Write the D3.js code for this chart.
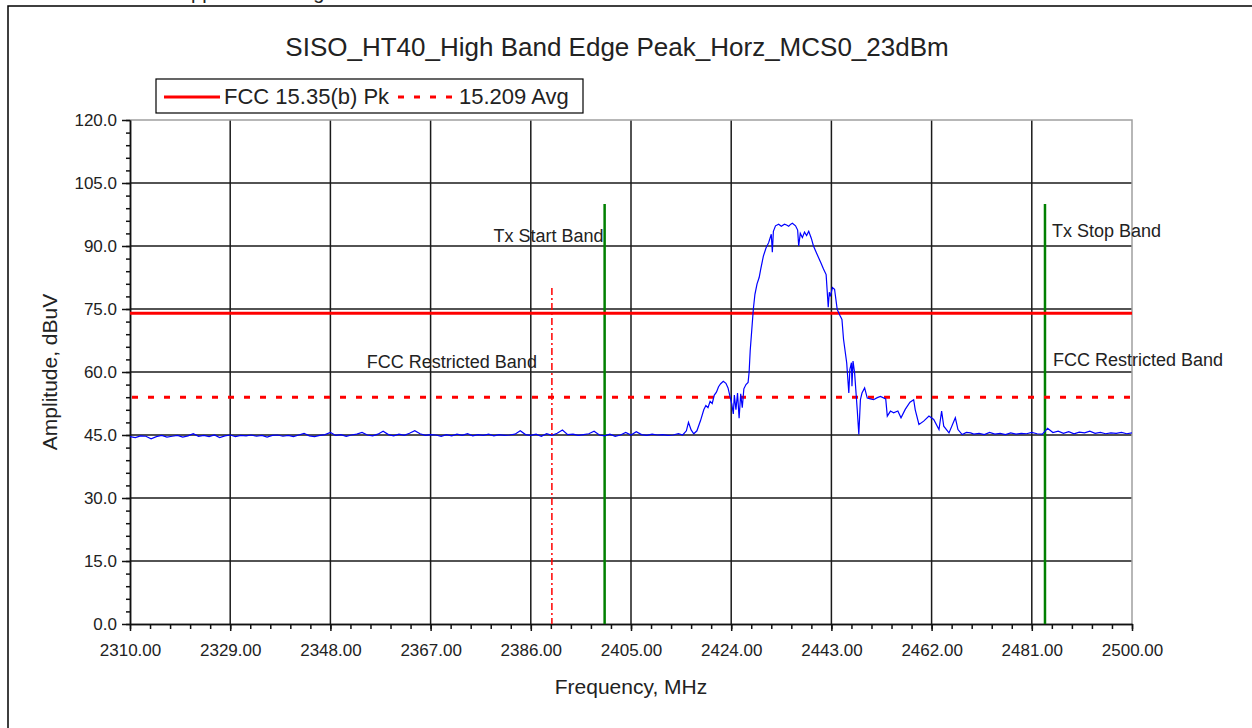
<!DOCTYPE html>
<html>
<head>
<meta charset="utf-8">
<script src="https://cdn.jsdelivr.net/npm/d3@7"></script>
<style>
body { margin: 0; background: #fff; }
svg text { font-family: "Liberation Sans", Arial, sans-serif; fill: #222; }
</style>
</head>
<body>
<div id="chart"></div>
<script>
"use strict";

const page_heading = "Horizontal Antenna Upper Band Edge Measurements";
const title = "SISO_HT40_High Band Edge Peak_Horz_MCS0_23dBm";
const x_ticks = [2310, 2329, 2348, 2367, 2386, 2405, 2424, 2443, 2462, 2481, 2500];
const y_ticks = [0, 15, 30, 45, 60, 75, 90, 105, 120];
const limit_names = ["FCC 15.35(b) Pk", "15.209 Avg"];
const limit_values = [74, 54];
const band_edges = [2400, 2483.5];
const band_labels = ["Tx Start Band", "Tx Stop Band"];
const band_top = 100;
const restricted_edges = [2390, 2483.5];
const restricted_label = "FCC Restricted Band";
const restricted_top = 80;

// measured trace, MHz / dBuV
const noise_low = [
    [2310, 44.6], [2311, 44.4], [2312, 44.8], [2313, 44.7], [2314, 44.1], [2315, 44.6], [2316, 44.9],
    [2317, 44.5], [2318, 44.7], [2319, 44.9], [2320, 44.5], [2321, 44.8], [2322, 45.3], [2323, 44.7],
    [2324, 44.9], [2325, 44.6], [2326, 45.0], [2327, 44.4], [2328, 44.8], [2329, 45.0], [2330, 44.6],
    [2331, 44.9], [2332, 44.8], [2333, 45.0], [2334, 44.7], [2335, 44.9], [2336, 44.5], [2337, 44.9],
    [2338, 45.0], [2339, 44.7], [2340, 44.9], [2341, 44.6], [2342, 45.0], [2343, 45.4], [2344, 44.8],
    [2345, 44.6], [2346, 44.9], [2347, 45.1], [2348, 45.6], [2349, 44.9], [2350, 45.1], [2351, 44.7],
    [2352, 45.0], [2353, 45.2], [2354, 45.6], [2355, 45.0], [2356, 44.8], [2357, 45.2], [2358, 45.9],
    [2359, 45.1], [2360, 44.8], [2361, 45.2], [2362, 44.9], [2363, 45.4], [2364, 46.0], [2365, 45.3],
    [2366, 44.9], [2367, 45.1], [2368, 45.0], [2369, 44.7], [2370, 45.1], [2371, 44.8], [2372, 45.2],
    [2373, 44.9], [2374, 45.3], [2375, 44.8], [2376, 45.1], [2377, 44.9], [2378, 45.2], [2379, 44.8],
    [2380, 45.1], [2381, 44.9], [2382, 45.0], [2383, 45.2], [2384, 46.0], [2385, 45.1], [2386, 44.9],
    [2387, 45.2], [2388, 44.7], [2389, 45.3], [2390, 44.9], [2391, 45.4], [2392, 46.2], [2393, 45.1],
    [2394, 45.2], [2395, 44.9], [2396, 45.1], [2397, 45.3], [2398, 45.9], [2399, 45.0], [2400, 44.8],
    [2401, 45.2], [2402, 44.7], [2403, 45.0], [2404, 45.6], [2405, 45.0], [2406, 45.8], [2407, 45.1],
    [2408, 44.9], [2409, 45.2], [2410, 45.0], [2411, 45.1], [2412, 44.9]
];
const emission = [
    [2413.0, 45.0], [2414.0, 45.3], [2414.8, 45.0], [2415.5, 46.0], [2415.9, 48.0], [2416.4, 46.2],
    [2416.9, 45.3], [2417.5, 46.0], [2418.2, 48.5], [2418.8, 51.0], [2419.2, 52.0], [2419.6, 51.5],
    [2420.0, 53.0], [2420.4, 52.5], [2420.8, 54.5], [2421.2, 55.2], [2421.6, 56.5], [2422.0, 57.2],
    [2422.5, 57.8], [2423.0, 57.3], [2423.4, 56.2], [2423.8, 54.0], [2424.1, 52.5], [2424.4, 50.0],
    [2424.6, 54.5], [2424.9, 51.0], [2425.2, 55.0], [2425.5, 49.0], [2425.8, 54.8], [2426.1, 51.5],
    [2426.4, 56.0], [2426.8, 57.0], [2427.2, 57.5], [2427.4, 60.0], [2427.6, 65.0], [2427.9, 70.0],
    [2428.2, 75.0], [2428.5, 78.5], [2428.9, 81.0], [2429.3, 82.5], [2429.6, 84.5], [2430.1, 87.6],
    [2430.6, 89.5], [2431.1, 90.8], [2431.6, 92.8], [2431.8, 88.5], [2432.0, 93.5], [2432.4, 94.8],
    [2433.0, 95.2], [2433.5, 94.7], [2434.1, 95.2], [2434.5, 95.0], [2434.9, 94.7], [2435.3, 95.2],
    [2435.6, 95.4], [2436.2, 94.8], [2436.6, 93.8], [2436.8, 90.0], [2437.1, 93.0], [2437.5, 92.0],
    [2437.9, 93.3], [2438.3, 92.5], [2438.7, 93.5], [2439.2, 91.8], [2439.6, 90.0], [2440.3, 88.0],
    [2441.0, 86.0], [2441.5, 84.5], [2442.0, 83.2], [2442.4, 75.4], [2442.6, 79.0], [2442.8, 78.0],
    [2443.2, 80.1], [2443.6, 79.7], [2444.1, 74.9], [2444.6, 73.5], [2445.0, 72.5], [2445.3, 67.8],
    [2445.9, 62.2], [2446.3, 55.0], [2446.5, 60.6], [2446.8, 62.2], [2446.9, 56.6], [2447.1, 62.6],
    [2447.4, 59.8], [2447.9, 51.0], [2448.2, 45.1], [2448.5, 53.4], [2448.8, 55.0], [2449.3, 56.2],
    [2449.8, 53.8], [2450.4, 53.6], [2451.0, 53.4], [2451.7, 53.9], [2452.3, 54.2], [2453.3, 53.6],
    [2453.6, 49.5], [2454.2, 50.7], [2454.8, 50.3], [2455.6, 50.7], [2456.2, 49.1], [2457.0, 51.1],
    [2457.9, 52.8], [2458.6, 53.4], [2458.9, 51.0], [2459.6, 47.5], [2460.5, 48.3], [2461.5, 49.5],
    [2462.4, 48.7], [2463.4, 46.3], [2463.9, 50.7], [2464.3, 47.1], [2465.3, 45.5], [2466.5, 49.1],
    [2467.0, 46.3], [2467.8, 45.1], [2468.6, 45.6], [2469.4, 45.5], [2470.0, 45.2]
];
const noise_high = [
    [2471, 45.4], [2472, 45.1], [2473, 45.6], [2474, 45.2], [2475, 45.4], [2476, 45.1], [2477, 45.5],
    [2478, 45.2], [2479, 45.4], [2480, 45.3], [2481, 45.6], [2482, 45.3], [2483, 45.2], [2484, 46.6],
    [2485, 45.6], [2486, 45.9], [2487, 45.4], [2488, 45.8], [2489, 45.3], [2490, 45.7], [2491, 45.5],
    [2492, 45.9], [2493, 45.4], [2494, 45.6], [2495, 45.3], [2496, 45.5], [2497, 45.4], [2498, 45.6],
    [2499, 45.3], [2500, 45.5]
];

const width = 1252;
const height = 728;
const plot = {left: 130, right: 1132, top: 120, bottom: 624};

const x_scale = d3.scaleLinear()
    .domain([x_ticks[0], x_ticks[x_ticks.length - 1]])
    .range([plot.left, plot.right]);
const y_scale = d3.scaleLinear()
    .domain([y_ticks[0], y_ticks[y_ticks.length - 1]])
    .range([plot.bottom, plot.top]);

const svg = d3.select("#chart").append("svg")
    .attr("width", width)
    .attr("height", height);

svg.append("rect")
    .attr("width", width)
    .attr("height", height)
    .attr("fill", "white");

// page heading, only its lower edge is inside the screenshot
svg.append("text")
    .attr("x", 2)
    .attr("y", -1)
    .attr("font-size", "20px")
    .attr("fill", "#000")
    .text(page_heading);
svg.append("rect")
    .attr("x", 8)
    .attr("y", 6)
    .attr("width", width + 20)
    .attr("height", height + 20)
    .attr("fill", "none")
    .attr("stroke", "#000")
    .attr("stroke-width", 1.5);

svg.append("text")
    .attr("x", 617)
    .attr("y", 56)
    .attr("text-anchor", "middle")
    .attr("font-size", "26px")
    .text(title);

// grid
svg.append("g")
    .selectAll("line")
    .data(x_ticks.slice(1, -1))
    .join("line")
    .attr("x1", d => x_scale(d))
    .attr("x2", d => x_scale(d))
    .attr("y1", plot.top)
    .attr("y2", plot.bottom)
    .attr("stroke", "#1a1a1a")
    .attr("stroke-width", 1.5);
svg.append("g")
    .selectAll("line")
    .data(y_ticks.slice(1, -1))
    .join("line")
    .attr("x1", plot.left)
    .attr("x2", plot.right)
    .attr("y1", d => y_scale(d))
    .attr("y2", d => y_scale(d))
    .attr("stroke", "#1a1a1a")
    .attr("stroke-width", 1.5);

// top and right border are grey
svg.append("path")
    .attr("d", "M" + plot.left + "," + plot.top + "H" + plot.right + "V" + plot.bottom)
    .attr("fill", "none")
    .attr("stroke", "#a0a0a0")
    .attr("stroke-width", 1.5);

// axes with minor ticks
const x_minor = d3.range(0, 51).map(i => x_ticks[0] + i * (x_ticks[1] - x_ticks[0]) / 5);
const y_minor = d3.range(0, 41).map(i => y_ticks[0] + i * (y_ticks[1] - y_ticks[0]) / 5);

svg.append("g")
    .attr("transform", "translate(0," + plot.bottom + ")")
    .call(d3.axisBottom(x_scale).tickValues(x_minor).tickSize(5).tickSizeOuter(0).tickFormat(""));
svg.append("g")
    .attr("class", "x_axis")
    .attr("transform", "translate(0," + plot.bottom + ")")
    .call(d3.axisBottom(x_scale).tickValues(x_ticks).tickSize(7).tickSizeOuter(0)
        .tickPadding(13).tickFormat(d3.format(".2f")));
svg.append("g")
    .attr("transform", "translate(" + plot.left + ",0)")
    .call(d3.axisLeft(y_scale).tickValues(y_minor).tickSize(4).tickSizeOuter(0).tickFormat(""));
svg.append("g")
    .attr("class", "y_axis")
    .attr("transform", "translate(" + plot.left + ",0)")
    .call(d3.axisLeft(y_scale).tickValues(y_ticks).tickSize(8).tickSizeOuter(0)
        .tickPadding(5).tickFormat(d3.format(".1f")));

svg.selectAll(".domain, .tick line")
    .attr("stroke", "#111")
    .attr("stroke-width", 1.5);
svg.selectAll(".x_axis text, .y_axis text")
    .attr("font-size", "17px")
    .attr("fill", "#222");

svg.append("text")
    .attr("x", (plot.left + plot.right) / 2)
    .attr("y", 694)
    .attr("text-anchor", "middle")
    .attr("font-size", "21px")
    .text("Frequency, MHz");
svg.append("text")
    .attr("transform", "translate(57," + ((plot.top + plot.bottom) / 2) + ") rotate(-90)")
    .attr("text-anchor", "middle")
    .attr("font-size", "21px")
    .text("Amplitude, dBuV");

// restricted band markers
svg.append("g")
    .selectAll("line")
    .data(restricted_edges)
    .join("line")
    .attr("x1", d => x_scale(d))
    .attr("x2", d => x_scale(d))
    .attr("y1", y_scale(restricted_top))
    .attr("y2", plot.bottom)
    .attr("stroke", "#ff0000")
    .attr("stroke-width", 1.5)
    .attr("stroke-dasharray", "7,3,2,3");

// tx band edges
svg.append("g")
    .selectAll("line")
    .data(band_edges)
    .join("line")
    .attr("x1", d => x_scale(d))
    .attr("x2", d => x_scale(d))
    .attr("y1", y_scale(band_top))
    .attr("y2", plot.bottom)
    .attr("stroke", "#008000")
    .attr("stroke-width", 2.5);

// limit lines
svg.append("line")
    .attr("x1", plot.left)
    .attr("x2", plot.right)
    .attr("y1", y_scale(limit_values[0]))
    .attr("y2", y_scale(limit_values[0]))
    .attr("stroke", "#ff0000")
    .attr("stroke-width", 3);
svg.append("line")
    .attr("x1", plot.left + 2)
    .attr("x2", plot.right)
    .attr("y1", y_scale(limit_values[1]))
    .attr("y2", y_scale(limit_values[1]))
    .attr("stroke", "#ff0000")
    .attr("stroke-width", 3)
    .attr("stroke-dasharray", "6,10");

// measured trace
const trace = noise_low.concat(emission, noise_high);
const line = d3.line()
    .x(d => x_scale(d[0]))
    .y(d => y_scale(d[1]));
svg.append("path")
    .datum(trace)
    .attr("d", line)
    .attr("fill", "none")
    .attr("stroke", "#0000ff")
    .attr("stroke-width", 1.2);

// annotations
svg.append("text")
    .attr("x", x_scale(band_edges[0]) - 1)
    .attr("y", 242)
    .attr("text-anchor", "end")
    .attr("font-size", "18px")
    .text(band_labels[0]);
svg.append("text")
    .attr("x", x_scale(band_edges[1]) + 7)
    .attr("y", 237)
    .attr("font-size", "18px")
    .text(band_labels[1]);
svg.append("text")
    .attr("x", x_scale(restricted_edges[0]) - 15)
    .attr("y", 368)
    .attr("text-anchor", "end")
    .attr("font-size", "18px")
    .text(restricted_label);
svg.append("text")
    .attr("x", x_scale(restricted_edges[1]) + 8)
    .attr("y", 366)
    .attr("font-size", "18px")
    .text(restricted_label);

// legend
const legend = svg.append("g");
legend.append("rect")
    .attr("x", 156)
    .attr("y", 79)
    .attr("width", 427)
    .attr("height", 34)
    .attr("fill", "white")
    .attr("stroke", "#000")
    .attr("stroke-width", 1.2);
legend.append("line")
    .attr("x1", 164).attr("x2", 220)
    .attr("y1", 97).attr("y2", 97)
    .attr("stroke", "#ff0000")
    .attr("stroke-width", 3);
legend.append("text")
    .attr("x", 224)
    .attr("y", 104)
    .attr("font-size", "22px")
    .text(limit_names[0]);
legend.append("line")
    .attr("x1", 398).attr("x2", 456)
    .attr("y1", 97).attr("y2", 97)
    .attr("stroke", "#ff0000")
    .attr("stroke-width", 3)
    .attr("stroke-dasharray", "6,10");
legend.append("text")
    .attr("x", 459)
    .attr("y", 104)
    .attr("font-size", "22px")
    .text(limit_names[1]);
</script>
</body>
</html>
